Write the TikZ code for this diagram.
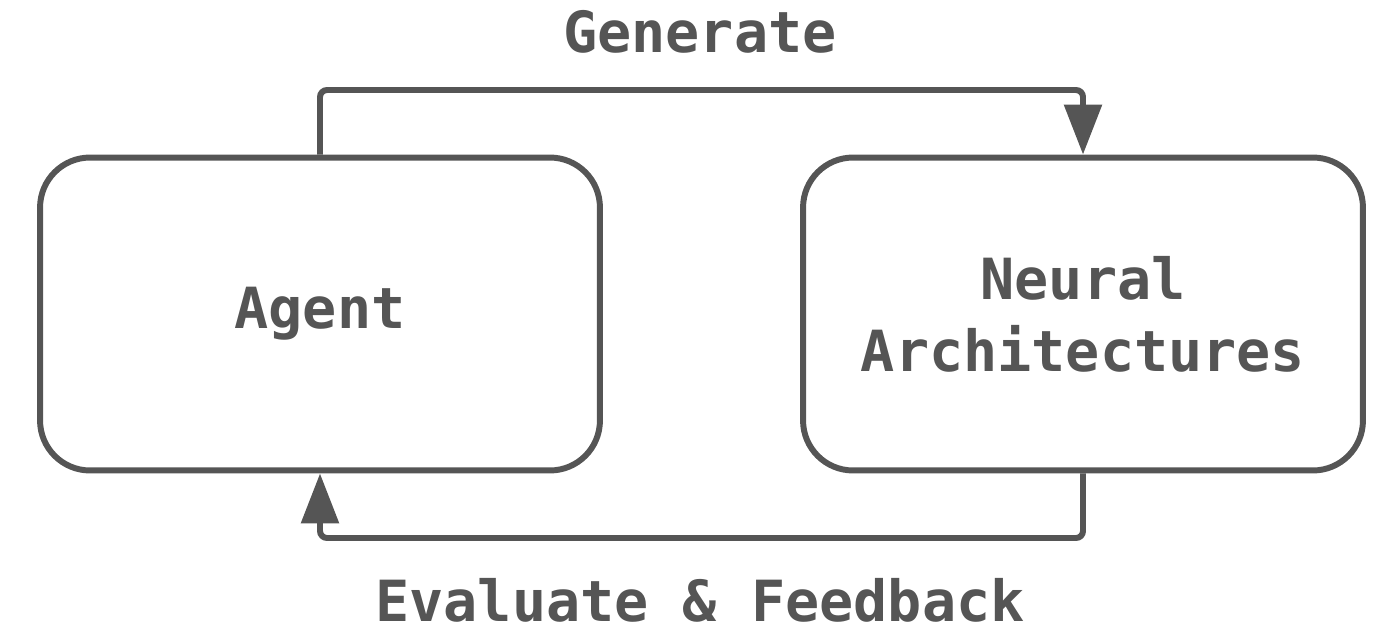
\documentclass[tikz,border=0pt]{standalone}
\usepackage{fontspec}
\setmonofont{DejaVu Sans Mono}
\usepackage{tikz}
\usetikzlibrary{arrows.meta}
\definecolor{ink}{HTML}{555555}

\begin{document}
\begin{tikzpicture}[
        x=0.02cm, y=-0.02cm,
        line width=3.4pt, draw=ink,
        box/.style={draw=ink, rounded corners=1cm, minimum width=11.2cm,
          minimum height=6.26cm, align=center, text=ink,
          font=\ttfamily\bfseries\fontsize{32.3}{41}\selectfont},
        lbl/.style={text=ink, font=\ttfamily\bfseries\fontsize{32.3}{41}\selectfont},
        flow/.style={draw=ink, rounded corners=4pt,
          -{Triangle[length=1cm,width=0.74cm]}}
      ]
        \useasboundingbox (0,0) rectangle (1400,639);

        \node[box] (agent) at (320,314) {\raisebox{-0.1cm}{Agent}};
        \node[box] (neural) at (1083,314) {Neural\\Architectures};

        \coordinate (topL) at (320,90);
        \coordinate (botR) at (1083,538);

        \draw[flow] (agent.north) -- (topL) -| (neural.north);
        \draw[flow] (neural.south) -- (botR) -| (agent.south);

        \node[lbl] (gen) at (700,32) {Generate};
        \node[lbl] (eval) at (700,600) {Evaluate \& Feedback};
      \end{tikzpicture}
\end{document}
